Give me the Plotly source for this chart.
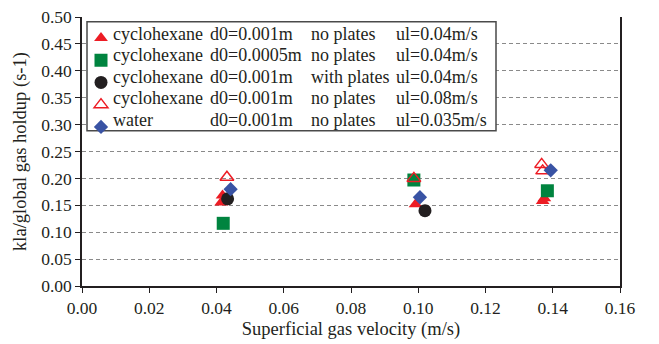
import plotly.graph_objects as go

# ---- data ----
s1_x = [0.0414, 0.0418, 0.0992, 0.1370, 0.1375]
s1_y = [0.155, 0.168, 0.152, 0.158, 0.163]
s2_x = [0.0420, 0.0987, 0.1384]
s2_y = [0.1165, 0.197, 0.177]
s3_x = [0.0433, 0.1020]
s3_y = [0.162, 0.140]
s4_x = [0.0431, 0.0987, 0.1367, 0.1370]
s4_y = [0.202, 0.200, 0.226, 0.214]
s5_x = [0.0442, 0.1005, 0.1394]
s5_y = [0.180, 0.165, 0.215]

col_fluid = ["cyclohexane", "cyclohexane", "cyclohexane", "cyclohexane", "water"]
col_d0 = ["d0=0.001m", "d0=0.0005m", "d0=0.001m", "d0=0.001m", "d0=0.001m"]
col_plates = ["no plates", "no plates", "with plates", "no plates", "no plates"]
col_ul = ["ul=0.04m/s", "ul=0.04m/s", "ul=0.04m/s", "ul=0.08m/s", "ul=0.035m/s"]

x_ticks = [0.00, 0.02, 0.04, 0.06, 0.08, 0.10, 0.12, 0.14, 0.16]
y_ticks = [0.00, 0.05, 0.10, 0.15, 0.20, 0.25, 0.30, 0.35, 0.40, 0.45, 0.50]

RED = "#ed1c24"
GREEN = "#00843f"
BLACK = "#231f20"
BLUE = "#3953a4"
FONT = "Liberation Serif"

descs = [" ".join(r) for r in zip(col_fluid, col_d0, col_plates, col_ul)]

series = [
    (s1_x, s1_y, dict(symbol="triangle-up", size=12, color=RED, line=dict(width=0))),
    (s2_x, s2_y, dict(symbol="square", size=13, color=GREEN, line=dict(width=0))),
    (s3_x, s3_y, dict(symbol="circle", size=13, color=BLACK, line=dict(width=0))),
    (s4_x, s4_y, dict(symbol="triangle-up-open", size=12, color=RED, line=dict(width=1.5, color=RED))),
    (s5_x, s5_y, dict(symbol="diamond", size=11, color=BLUE, line=dict(width=0))),
]

fig = go.Figure()
for (xs, ys, mk), desc in zip(series, descs):
    # legend key only (text of the legend is drawn as aligned columns below)
    fig.add_trace(go.Scatter(x=xs, y=ys, mode="markers", name="\u00a0", marker=mk,
                             hovertemplate="(%{x:.3f}, %{y:.3f})<extra>" + desc + "</extra>"))

# plot area geometry (pixels) for converting legend layout to paper coords
L, R, T, B = 82, 620, 7, 286
def px(xp):
    return (xp - L) / (R - L)
def py(yp):
    return (B - yp) / (B - T)

# legend box
fig.add_shape(type="rect", xref="paper", yref="paper",
              x0=px(87), x1=px(496), y0=py(125), y1=py(12),
              line=dict(color="#4a4a4a", width=1.5), fillcolor="white", layer="above")

row_y = [25, 46.7, 69.5, 91.5, 114]
col_x = [112, 209, 310, 395]
annotations = []
for i, yy in enumerate(row_y):
    for cx, txt in zip(col_x, [col_fluid[i], col_d0[i], col_plates[i], col_ul[i]]):
        annotations.append(dict(x=px(cx), y=py(yy), xref="paper", yref="paper",
                                text=txt, showarrow=False, xanchor="left", yanchor="middle",
                                borderpad=0,
                                font=dict(family=FONT, size=18, color=BLACK)))

fig.update_layout(
    width=659, height=344,
    margin=dict(l=L, r=659 - R, t=T, b=344 - B),
    paper_bgcolor="white", plot_bgcolor="white",
    font=dict(family=FONT, size=17, color=BLACK),
    showlegend=True,
    legend=dict(x=px(81), y=py(12), xanchor="left", yanchor="top",
                bgcolor="rgba(0,0,0,0)", borderwidth=0,
                font=dict(family=FONT, size=14.8, color=BLACK),
                tracegroupgap=0),
    annotations=annotations,
    xaxis=dict(range=[0, 0.16], tickvals=x_ticks, tickformat=".2f",
               showline=True, linecolor=BLACK, linewidth=1.5, mirror=False,
               ticks="outside", ticklen=5, tickcolor=BLACK, tickwidth=1,
               showgrid=False, zeroline=False, ticklabeloverflow="allow",
               title=dict(text="Superficial gas velocity (m/s)", font=dict(size=18.5), standoff=5),
               tickfont=dict(size=17.5)),
    yaxis=dict(range=[0, 0.5], tickvals=y_ticks, tickformat=".2f",
               showline=True, linecolor=BLACK, linewidth=1.5, mirror=True,
               ticks="outside", ticklen=5, tickcolor=BLACK, tickwidth=1,
               showgrid=True, gridcolor="#8a8a8a", gridwidth=1, griddash="4px,3px",
               zeroline=False, ticklabeloverflow="allow",
               title=dict(text="kla/global gas holdup (s-1)", font=dict(size=18.5), standoff=10),
               tickfont=dict(size=17.5)),
)

fig.write_html("out.html", config={"displayModeBar": False},
               post_script="document.body.style.margin='0';")
